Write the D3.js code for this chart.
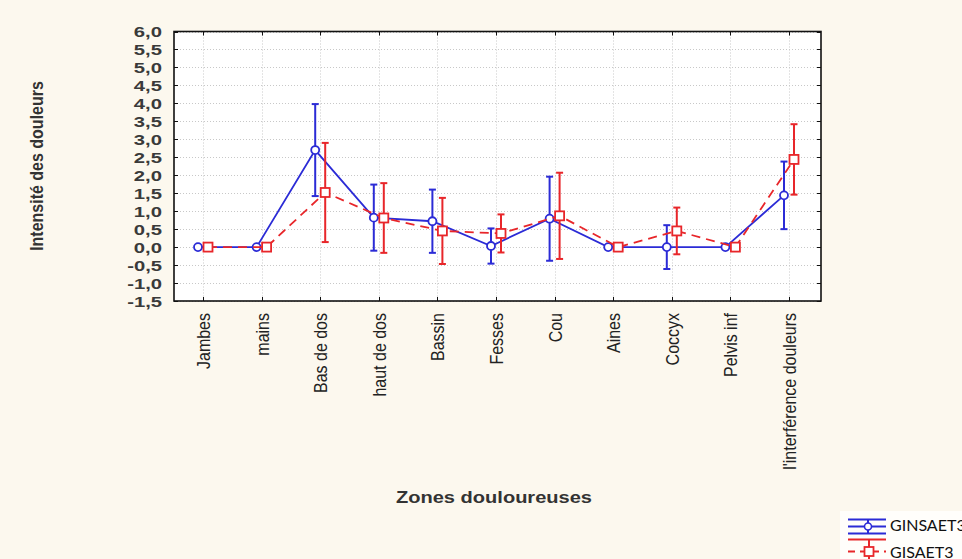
<!DOCTYPE html>
<html><head><meta charset="utf-8">
<script src="https://cdn.jsdelivr.net/npm/d3@7"></script>
<style>body{margin:0;background:#fcf8ee;} svg{display:block}</style>
</head><body><svg id="c" width="962" height="559"></svg>
<script>
const categories = ["Jambes","mains","Bas de dos","haut de dos","Bassin","Fesses","Cou","Aines","Coccyx","Pelvis inf","l'interférence douleurs"];
const ginsMean = [0, 0, 2.70, 0.82, 0.72, 0.03, 0.79, 0, 0, 0, 1.44];
const ginsErr  = [0, 0, 1.28, 0.92, 0.88, 0.49, 1.17, 0, 0.61, 0, 0.94];
const gisMean  = [0, 0, 1.52, 0.81, 0.45, 0.38, 0.87, 0, 0.45, 0, 2.44];
const gisErr   = [0, 0, 1.38, 0.97, 0.92, 0.53, 1.20, 0, 0.65, 0, 0.98];
const yTicks = [-1.5,-1,-0.5,0,0.5,1,1.5,2,2.5,3,3.5,4,4.5,5,5.5,6];
const seriesNames = ["GINSAET3","GISAET3"];

const BLUE = "#2b2bd6", RED = "#e8262a";
const svg = d3.select("#c");
const L = 174, R = 821, T = 31.5, B = 301;
const x = d3.scalePoint().domain(categories).range([203, 789]);
const y = d3.scaleLinear().domain([-1.5, 6]).range([B, T]);
const loc = d3.formatLocale({decimal: ",", thousands: " ", grouping: [3], currency: ["", ""], minus: "-"});
const fmt = loc.format(".1f");

// plot background
svg.append("rect").attr("x", L).attr("y", T).attr("width", R - L).attr("height", B - T).attr("fill", "#fff");

// grid
const grid = svg.append("g").attr("stroke", "#c8c8c8").attr("stroke-width", 1).attr("stroke-dasharray", "1,2");
grid.selectAll("line.h").data(yTicks).join("line").attr("class", "h")
  .attr("x1", L).attr("x2", R).attr("y1", d => Math.round(y(d)) + 0.5).attr("y2", d => Math.round(y(d)) + 0.5);
grid.selectAll("line.v").data(categories).join("line").attr("class", "v")
  .attr("y1", T).attr("y2", B).attr("x1", d => Math.round(x(d)) + 0.5).attr("x2", d => Math.round(x(d)) + 0.5);

// y axis (labels) via d3 axis
const yAxis = svg.append("g").attr("transform", `translate(${L},0)`)
  .call(d3.axisLeft(y).tickValues(yTicks).tickFormat(fmt).tickSize(0));
yAxis.select(".domain").remove();
yAxis.selectAll("text")
  .attr("x", null).attr("dy", "0.36em")
  .attr("transform", "translate(-12,0) scale(1.35,1)")
  .attr("font-family", "Liberation Sans, Arial, sans-serif").attr("font-size", 15).attr("font-weight", "bold")
  .attr("fill", "#3a3a3a").attr("text-anchor", "end");

// inward ticks on all four sides
const tk = svg.append("g").attr("stroke", "#111").attr("stroke-width", 1);
yTicks.forEach(v => {
  const yy = Math.round(y(v)) + 0.5;
  tk.append("line").attr("x1", L).attr("x2", L + 4).attr("y1", yy).attr("y2", yy);
  tk.append("line").attr("x1", R - 4).attr("x2", R).attr("y1", yy).attr("y2", yy);
});
categories.forEach(c => {
  const xx = Math.round(x(c)) + 0.5;
  tk.append("line").attr("x1", xx).attr("x2", xx).attr("y1", B - 4).attr("y2", B);
  tk.append("line").attr("x1", xx).attr("x2", xx).attr("y1", T).attr("y2", T + 4);
});

// x axis labels via d3 axis
const xAxis = svg.append("g").attr("transform", `translate(0,${B})`)
  .call(d3.axisBottom(x).tickSize(0));
xAxis.select(".domain").remove();
xAxis.selectAll(".tick").attr("transform", null);
xAxis.selectAll("text")
  .attr("x", null).attr("y", null).attr("dy", null)
  .attr("transform", d => `translate(${x(d) + 7},12) scale(1.2,1) rotate(-90)`)
  .attr("text-anchor", "end")
  .attr("font-family", "Liberation Sans, Arial, sans-serif").attr("font-size", 16)
  .attr("fill", "#222");

// frame
svg.append("rect").attr("x", L).attr("y", T).attr("width", R - L).attr("height", B - T)
  .attr("fill", "none").attr("stroke", "#111").attr("stroke-width", 1.6);

// axis titles
svg.append("text").text("Zones douloureuses")
  .attr("transform", "translate(494,503) scale(1.18,1)")
  .attr("text-anchor", "middle").attr("font-family", "Liberation Sans, Arial, sans-serif")
  .attr("font-size", 17).attr("font-weight", "bold").attr("fill", "#333");
svg.append("text").text("Intensité des douleurs")
  .attr("transform", "translate(43,166) scale(1.18,1) rotate(-90)")
  .attr("text-anchor", "middle").attr("font-family", "Liberation Sans, Arial, sans-serif")
  .attr("font-size", 16).attr("font-weight", "bold").attr("fill", "#333");

// series
const series = [
  {mean: ginsMean, err: ginsErr, color: BLUE, dx: -5, dash: null, marker: "circle"},
  {mean: gisMean, err: gisErr, color: RED, dx: 5, dash: "9,6", marker: "square"}
];
series.forEach(s => {
  const pts = categories.map((c, i) => ({c, m: s.mean[i], e: s.err[i], px: x(c) + s.dx}));
  const g = svg.append("g");
  g.append("path").datum(pts)
    .attr("d", d3.line().x(d => d.px).y(d => y(d.m)))
    .attr("fill", "none").attr("stroke", s.color).attr("stroke-width", 1.8)
    .attr("stroke-dasharray", s.dash);
  const eb = pts.filter(d => d.e > 0);
  g.selectAll("line.eb").data(eb).join("line")
    .attr("x1", d => d.px).attr("x2", d => d.px)
    .attr("y1", d => y(d.m - d.e)).attr("y2", d => y(d.m + d.e))
    .attr("stroke", s.color).attr("stroke-width", 2);
  g.selectAll("line.capt").data(eb).join("line")
    .attr("x1", d => d.px - 3.5).attr("x2", d => d.px + 3.5)
    .attr("y1", d => y(d.m + d.e)).attr("y2", d => y(d.m + d.e))
    .attr("stroke", s.color).attr("stroke-width", 2);
  g.selectAll("line.capb").data(eb).join("line")
    .attr("x1", d => d.px - 3.5).attr("x2", d => d.px + 3.5)
    .attr("y1", d => y(d.m - d.e)).attr("y2", d => y(d.m - d.e))
    .attr("stroke", s.color).attr("stroke-width", 2);
  if (s.marker === "circle") {
    g.selectAll("circle").data(pts).join("circle")
      .attr("cx", d => d.px).attr("cy", d => y(d.m)).attr("r", 4)
      .attr("fill", "#fff").attr("stroke", s.color).attr("stroke-width", 1.8);
  } else {
    g.selectAll("rect").data(pts).join("rect")
      .attr("x", d => d.px - 4.5).attr("y", d => y(d.m) - 4.5).attr("width", 9).attr("height", 9)
      .attr("fill", "#fff").attr("stroke", s.color).attr("stroke-width", 1.8);
  }
});

// legend
const lg = svg.append("g");
lg.append("rect").attr("x", 840).attr("y", 511).attr("width", 122).attr("height", 48).attr("fill", "#fffefb");
[519.5, 526.5, 533.5].forEach(yy => lg.append("line").attr("x1", 848).attr("x2", 886).attr("y1", yy).attr("y2", yy)
  .attr("stroke", BLUE).attr("stroke-width", 2));
lg.append("line").attr("x1", 868).attr("x2", 868).attr("y1", 519).attr("y2", 534).attr("stroke", BLUE).attr("stroke-width", 2);
lg.append("circle").attr("cx", 868).attr("cy", 526.5).attr("r", 3.5).attr("fill", "#fff").attr("stroke", BLUE).attr("stroke-width", 1.6);
lg.append("line").attr("x1", 848).attr("x2", 886).attr("y1", 539.5).attr("y2", 539.5).attr("stroke", RED).attr("stroke-width", 2);
lg.append("line").attr("x1", 869).attr("x2", 869).attr("y1", 539).attr("y2", 559).attr("stroke", RED).attr("stroke-width", 2);
lg.append("line").attr("x1", 848).attr("x2", 886).attr("y1", 551.5).attr("y2", 551.5).attr("stroke", RED).attr("stroke-width", 2).attr("stroke-dasharray", "7,5");
lg.append("rect").attr("x", 864.5).attr("y", 547).attr("width", 9).attr("height", 9).attr("fill", "#fff").attr("stroke", RED).attr("stroke-width", 1.8);
lg.selectAll("text").data(seriesNames).join("text")
  .attr("x", 890).attr("y", (d, i) => i === 0 ? 531 : 558)
  .attr("font-family", "Lato, sans-serif").attr("font-size", 16).attr("fill", "#111")
  .text(d => d);
</script></body></html>
